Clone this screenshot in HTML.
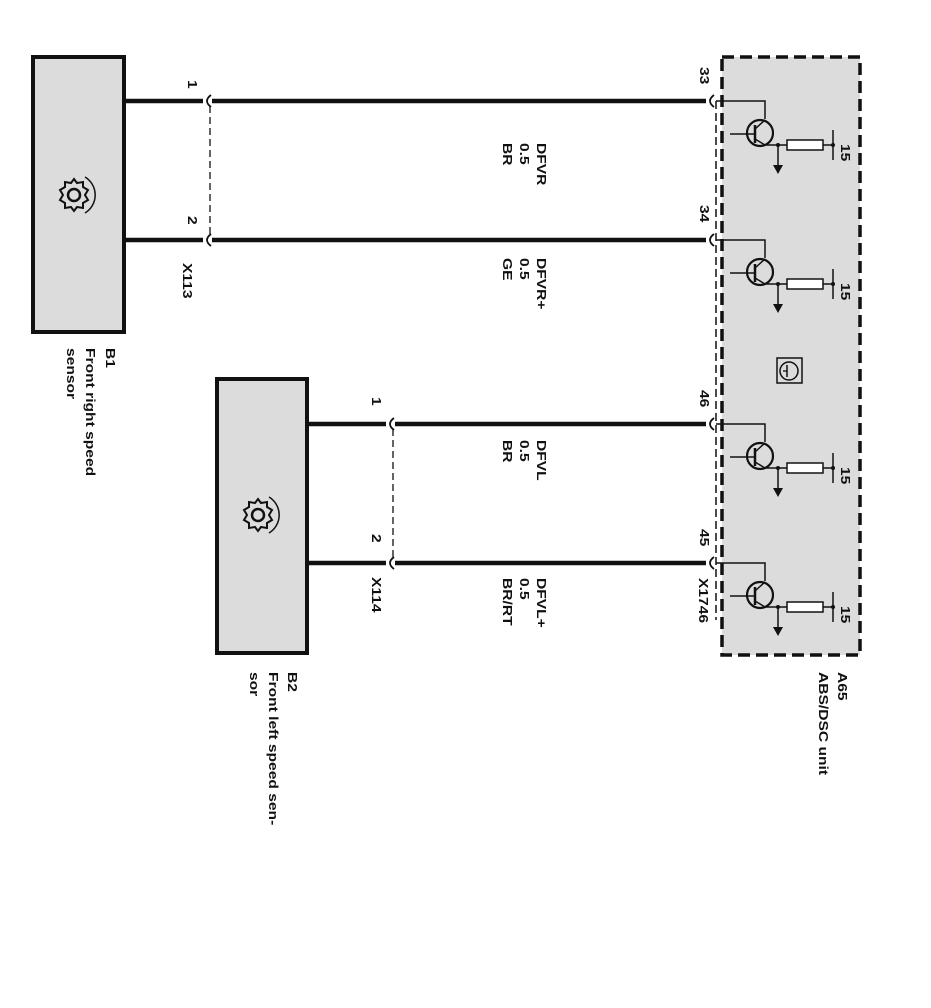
<!DOCTYPE html>
<html><head><meta charset="utf-8"><style>
html,body{margin:0;padding:0;background:#fff;}
svg{display:block;}
text{font-family:"Liberation Sans",Arial,sans-serif;font-size:13px;font-weight:bold;fill:#111;}
</style></head><body>
<svg width="931" height="1008" viewBox="0 0 931 1008" xmlns="http://www.w3.org/2000/svg">
<defs>
<g id="gear">
 <circle cx="0" cy="0" r="6" fill="none" stroke="#111" stroke-width="2.5"/>
 <path d="M0,-16 L3,-12 L9,-13 L9,-8 L14,-5 L11,0 L14,5 L9,8 L9,13 L3,12 L0,16 L-3,12 L-9,13 L-9,8 L-14,5 L-11,0 L-14,-5 L-9,-8 L-9,-13 L-3,-12 Z" fill="none" stroke="#111" stroke-width="2"/>
 <path d="M11,-18 A21,21 0 0 1 11,18" fill="none" stroke="#111" stroke-width="1.5"/>
</g>
<g id="tr">
 <path d="M716,0 H765 V18" fill="none" stroke="#111" stroke-width="1.5"/>
 <circle cx="760" cy="32" r="13" fill="none" stroke="#111" stroke-width="2.2"/>
 <line x1="730" y1="33" x2="755" y2="33" stroke="#111" stroke-width="1.5"/>
 <line x1="755" y1="24" x2="755" y2="42" stroke="#111" stroke-width="2.5"/>
 <line x1="755" y1="28" x2="765" y2="19" stroke="#111" stroke-width="1.5"/>
 <line x1="755" y1="38" x2="765" y2="44" stroke="#111" stroke-width="1.5"/>
 <line x1="765" y1="44" x2="787" y2="44" stroke="#111" stroke-width="1.5"/>
 <circle cx="778" cy="44" r="2" fill="#111"/>
 <line x1="778" y1="44" x2="778" y2="66" stroke="#111" stroke-width="1.5"/>
 <path d="M773,64 L783,64 L778,73 Z" fill="#111"/>
 <rect x="787" y="39" width="36" height="10" fill="#fff" stroke="#111" stroke-width="1.5"/>
 <line x1="823" y1="44" x2="833" y2="44" stroke="#111" stroke-width="1.5"/>
 <line x1="833" y1="29" x2="833" y2="59" stroke="#111" stroke-width="1.5"/>
 <circle cx="833" cy="44" r="2" fill="#111"/>
</g>
</defs>

<rect x="722" y="57" width="138" height="598" fill="#dcdcdc" stroke="#111" stroke-width="3.5" stroke-dasharray="12,6"/>
<line x1="716" y1="101" x2="716" y2="620" stroke="#111" stroke-width="1.5" stroke-dasharray="8,4"/>

<rect x="33" y="57" width="91" height="275" fill="#dcdcdc" stroke="#111" stroke-width="4"/>
<use href="#gear" x="74" y="195"/>
<rect x="217" y="379" width="90" height="274" fill="#dcdcdc" stroke="#111" stroke-width="4"/>
<use href="#gear" x="258" y="515"/>

<g stroke="#111" stroke-width="4.5" fill="none">
 <line x1="124" y1="101" x2="203" y2="101"/><line x1="212" y1="101" x2="706" y2="101"/>
 <line x1="124" y1="240" x2="203" y2="240"/><line x1="212" y1="240" x2="706" y2="240"/>
 <line x1="307" y1="424" x2="386" y2="424"/><line x1="395" y1="424" x2="706" y2="424"/>
 <line x1="307" y1="563" x2="386" y2="563"/><line x1="395" y1="563" x2="706" y2="563"/>
</g>
<g stroke="#111" stroke-width="1.8" fill="none">
 <path d="M211,95 Q203,101 211,107"/><path d="M211,234 Q203,240 211,246"/>
 <path d="M394,418 Q386,424 394,430"/><path d="M394,557 Q386,563 394,569"/>
 <path d="M714,95 Q706,101 714,107"/><path d="M714,234 Q706,240 714,246"/>
 <path d="M714,418 Q706,424 714,430"/><path d="M714,557 Q706,563 714,569"/>
 <line x1="210" y1="106" x2="210" y2="235" stroke-dasharray="7,4" stroke-width="1.3"/>
 <line x1="393" y1="429" x2="393" y2="558" stroke-dasharray="7,4" stroke-width="1.3"/>
</g>

<use href="#tr" y="101"/><use href="#tr" y="240"/><use href="#tr" y="424"/><use href="#tr" y="563"/>
<rect x="777" y="358" width="25" height="25" fill="none" stroke="#111" stroke-width="1.5"/>
<circle cx="789" cy="371" r="9" fill="none" stroke="#111" stroke-width="1.5"/>
<line x1="783" y1="371" x2="787" y2="371" stroke="#111" stroke-width="1.3"/>
<line x1="787" y1="365" x2="787" y2="377" stroke="#111" stroke-width="1.5"/>

<g>
<text transform="translate(841,144) rotate(90) scale(1.2,1)">15</text>
<text transform="translate(841,283) rotate(90) scale(1.2,1)">15</text>
<text transform="translate(841,467) rotate(90) scale(1.2,1)">15</text>
<text transform="translate(841,606) rotate(90) scale(1.2,1)">15</text>

<text transform="translate(700,67) rotate(90) scale(1.2,1)">33</text>
<text transform="translate(700,205) rotate(90) scale(1.2,1)">34</text>
<text transform="translate(700,390) rotate(90) scale(1.2,1)">46</text>
<text transform="translate(700,529) rotate(90) scale(1.2,1)">45</text>
<text transform="translate(699,578) rotate(90) scale(1.2,1)">X1746</text>

<text transform="translate(188,80) rotate(90) scale(1.2,1)">1</text>
<text transform="translate(188,216) rotate(90) scale(1.2,1)">2</text>
<text transform="translate(183,263) rotate(90) scale(1.2,1)">X113</text>
<text transform="translate(372,397) rotate(90) scale(1.2,1)">1</text>
<text transform="translate(372,534) rotate(90) scale(1.2,1)">2</text>
<text transform="translate(372,577) rotate(90) scale(1.2,1)">X114</text>

<text transform="translate(537,143) rotate(90) scale(1.2,1)">DFVR</text>
<text transform="translate(520,143) rotate(90) scale(1.2,1)">0.5</text>
<text transform="translate(503,143) rotate(90) scale(1.2,1)">BR</text>
<text transform="translate(537,258) rotate(90) scale(1.2,1)">DFVR+</text>
<text transform="translate(520,258) rotate(90) scale(1.2,1)">0.5</text>
<text transform="translate(503,258) rotate(90) scale(1.2,1)">GE</text>
<text transform="translate(537,440) rotate(90) scale(1.2,1)">DFVL</text>
<text transform="translate(520,440) rotate(90) scale(1.2,1)">0.5</text>
<text transform="translate(503,440) rotate(90) scale(1.2,1)">BR</text>
<text transform="translate(537,578) rotate(90) scale(1.2,1)">DFVL+</text>
<text transform="translate(520,578) rotate(90) scale(1.2,1)">0.5</text>
<text transform="translate(503,578) rotate(90) scale(1.2,1)">BR/RT</text>

<text transform="translate(106,348) rotate(90) scale(1.2,1)">B1</text>
<text transform="translate(86,348) rotate(90) scale(1.2,1)">Front right speed</text>
<text transform="translate(67,348) rotate(90) scale(1.2,1)">sensor</text>
<text transform="translate(288,672) rotate(90) scale(1.2,1)">B2</text>
<text transform="translate(269,672) rotate(90) scale(1.2,1)">Front left speed sen-</text>
<text transform="translate(250,672) rotate(90) scale(1.2,1)">sor</text>
<text transform="translate(838,672) rotate(90) scale(1.2,1)">A65</text>
<text transform="translate(819,672) rotate(90) scale(1.2,1)">ABS/DSC unit</text>
</g>
</svg>
</body></html>
